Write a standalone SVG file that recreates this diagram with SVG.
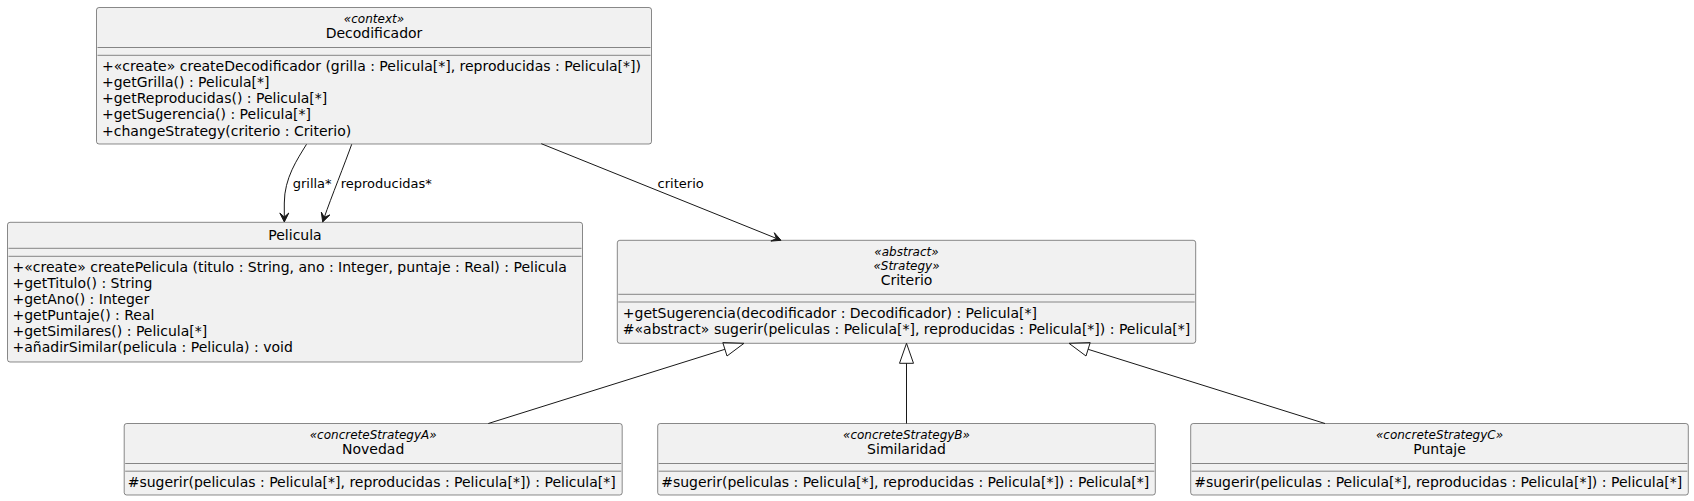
<svg xmlns="http://www.w3.org/2000/svg" width="1694" height="501" viewBox="0 0 1694 501">
<defs>
<style>
.box{fill:#F1F1F1;stroke:#181818;stroke-width:0.5}
.sep{stroke:#181818;stroke-width:0.5}
.t{font-family:"DejaVu Sans",sans-serif;font-size:14px;fill:#000000}
.st{font-family:"DejaVu Sans",sans-serif;font-size:12px;font-style:italic;fill:#000000}
.c{text-anchor:middle}
.lbl{font-family:"DejaVu Sans",sans-serif;font-size:13px;fill:#000000}
.edge{fill:none;stroke:#181818;stroke-width:1}
.head{fill:#181818;stroke:#181818;stroke-width:1}
.tri{fill:none;stroke:#181818;stroke-width:1}
</style>
</defs>
<rect x="0" y="0" width="1694" height="501" fill="#FFFFFF"/>

<g id="Decodificador">
<rect class="box" x="96.5" y="7.5" width="555" height="136.5" rx="2.5" ry="2.5"/>
<text class="st c" x="374" y="23.4">«context»</text>
<text class="t c" x="374" y="37.6">Decodificador</text>
<line class="sep" x1="97.5" y1="47.5" x2="650.5" y2="47.5"/>
<line class="sep" x1="97.5" y1="55.3" x2="650.5" y2="55.3"/>
<text class="t" x="102" y="71.1">+«create» createDecodificador (grilla : Pelicula[*], reproducidas : Pelicula[*])</text>
<text class="t" x="102" y="87.2">+getGrilla() : Pelicula[*]</text>
<text class="t" x="102" y="103.3">+getReproducidas() : Pelicula[*]</text>
<text class="t" x="102" y="119.4">+getSugerencia() : Pelicula[*]</text>
<text class="t" x="102" y="135.5">+changeStrategy(criterio : Criterio)</text>
</g>

<g id="Pelicula">
<rect class="box" x="7.5" y="222.3" width="575" height="139.7" rx="2.5" ry="2.5"/>
<text class="t c" x="295" y="240.1">Pelicula</text>
<line class="sep" x1="8.5" y1="248.3" x2="581.5" y2="248.3"/>
<line class="sep" x1="8.5" y1="256.3" x2="581.5" y2="256.3"/>
<text class="t" x="12.5" y="271.9">+«create» createPelicula (titulo : String, ano : Integer, puntaje : Real) : Pelicula</text>
<text class="t" x="12.5" y="288">+getTitulo() : String</text>
<text class="t" x="12.5" y="304.1">+getAno() : Integer</text>
<text class="t" x="12.5" y="320.2">+getPuntaje() : Real</text>
<text class="t" x="12.5" y="336.3">+getSimilares() : Pelicula[*]</text>
<text class="t" x="12.5" y="352.4">+añadirSimilar(pelicula : Pelicula) : void</text>
</g>

<g id="Criterio">
<rect class="box" x="617.3" y="240.3" width="578.4" height="103" rx="2.5" ry="2.5"/>
<text class="st c" x="906.5" y="256.2">«abstract»</text>
<text class="st c" x="906.5" y="270.4">«Strategy»</text>
<text class="t c" x="906.5" y="285">Criterio</text>
<line class="sep" x1="618.3" y1="294.3" x2="1194.7" y2="294.3"/>
<line class="sep" x1="618.3" y1="302" x2="1194.7" y2="302"/>
<text class="t" x="622.8" y="318">+getSugerencia(decodificador : Decodificador) : Pelicula[*]</text>
<text class="t" x="622.8" y="334.1">#«abstract» sugerir(peliculas : Pelicula[*], reproducidas : Pelicula[*]) : Pelicula[*]</text>
</g>

<g id="Novedad">
<rect class="box" x="124.2" y="423.5" width="498" height="71.5" rx="2.5" ry="2.5"/>
<text class="st c" x="373.2" y="439.4">«concreteStrategyA»</text>
<text class="t c" x="373.2" y="453.6">Novedad</text>
<line class="sep" x1="125.2" y1="463.5" x2="621.2" y2="463.5"/>
<line class="sep" x1="125.2" y1="471.2" x2="621.2" y2="471.2"/>
<text class="t" x="127.7" y="487">#sugerir(peliculas : Pelicula[*], reproducidas : Pelicula[*]) : Pelicula[*]</text>
</g>

<g id="Similaridad">
<rect class="box" x="657.7" y="423.5" width="497.6" height="71.5" rx="2.5" ry="2.5"/>
<text class="st c" x="906.5" y="439.4">«concreteStrategyB»</text>
<text class="t c" x="906.5" y="453.6">Similaridad</text>
<line class="sep" x1="658.7" y1="463.5" x2="1154.3" y2="463.5"/>
<line class="sep" x1="658.7" y1="471.2" x2="1154.3" y2="471.2"/>
<text class="t" x="661.2" y="487">#sugerir(peliculas : Pelicula[*], reproducidas : Pelicula[*]) : Pelicula[*]</text>
</g>

<g id="Puntaje">
<rect class="box" x="1190.7" y="423.5" width="497.6" height="71.5" rx="2.5" ry="2.5"/>
<text class="st c" x="1439.5" y="439.4">«concreteStrategyC»</text>
<text class="t c" x="1439.5" y="453.6">Puntaje</text>
<line class="sep" x1="1191.7" y1="463.5" x2="1687.3" y2="463.5"/>
<line class="sep" x1="1191.7" y1="471.2" x2="1687.3" y2="471.2"/>
<text class="t" x="1194.2" y="487">#sugerir(peliculas : Pelicula[*], reproducidas : Pelicula[*]) : Pelicula[*]</text>
</g>

<g id="connectors">
<path class="edge" d="M306.5,144.3 C297.5,159 284.3,178 284.3,203 L284.3,217"/>
<polygon class="head" points="284.3,222 288.8,213 284.3,217 279.8,213"/>
<text class="lbl" x="292.7" y="187.5">grilla*</text>

<path class="edge" d="M351.7,144.3 C345,163 331,198 324.3,217.3"/>
<polygon class="head" points="322.7,222 329.9,214.9 324.3,217.3 321.3,212.1"/>
<text class="lbl" x="340.7" y="187.5">reproducidas*</text>

<path class="edge" d="M541.3,143.7 L776.4,238.4"/>
<polygon class="head" points="781,240.3 770.9,241.1 776.4,238.4 774.3,232.7"/>
<text class="lbl" x="657.6" y="187.5">criterio</text>

<path class="edge" d="M488.3,423.5 L724.9,349.3"/>
<polygon class="tri" points="744,343.3 727,356 722.8,342.6"/>

<path class="edge" d="M906.5,423.5 L906.5,363.3"/>
<polygon class="tri" points="906.5,343.3 913.5,363.3 899.5,363.3"/>

<path class="edge" d="M1325,423.5 L1088.1,349.3"/>
<polygon class="tri" points="1069,343.3 1086,356 1090.2,342.6"/>
</g>
</svg>
